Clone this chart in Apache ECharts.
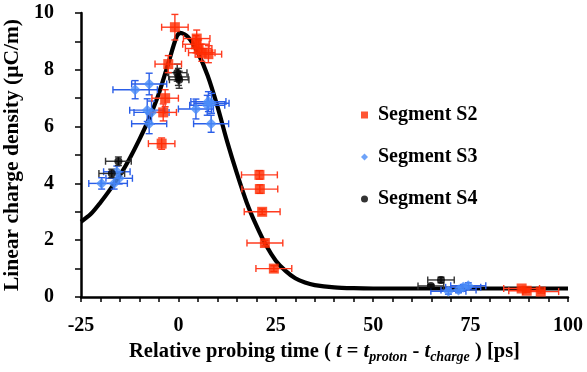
<!DOCTYPE html>
<html>
<head>
<meta charset="utf-8">
<script src="https://cdn.jsdelivr.net/npm/echarts@6/dist/echarts.min.js"></script>
<style>
  html, body { margin: 0; padding: 0; background: #fff; }
  #chart { width: 587px; height: 372px; }
</style>
</head>
<body>
<div id="chart"></div>
<script>
// [t (ps), density (uC/m), t error, density error]
const segmentS2 = [
  [-0.9, 9.5, 3.4, 0.45], [4.7, 9.1, 3.4, 0.3], [4.5, 8.9, 3.4, 0.3], [5.2, 8.75, 3.4, 0.3],
  [6.0, 8.6, 3.4, 0.3], [7.7, 8.55, 3.4, 0.3], [-2.6, 8.2, 3.4, 0.3], [-3.4, 7.0, 3.4, 0.3],
  [-3.9, 6.5, 3.4, 0.3], [-4.3, 5.4, 3.4, 0.2], [20.8, 4.3, 4.6, 0.15], [20.9, 3.8, 4.6, 0.15],
  [21.5, 3.0, 4.6, 0.1], [22.2, 1.9, 4.6, 0.1], [24.5, 1.0, 4.6, 0.1],
  [88.1, 0.3, 4.6, 0.05], [89.4, 0.22, 4.6, 0.05], [93.0, 0.19, 4.6, 0.05]
];
const segmentS3 = [
  [-11.1, 7.3, 5.7, 0.32], [-7.5, 7.5, 4.5, 0.38], [-8.0, 6.58, 4.5, 0.4], [-6.9, 6.5, 4.5, 0.4],
  [-7.5, 6.1, 4.5, 0.35], [4.5, 6.62, 4.5, 0.35], [7.4, 6.75, 4.5, 0.35], [8.5, 6.82, 4.5, 0.35],
  [7.7, 6.88, 4.5, 0.35], [8.4, 6.1, 4.5, 0.3], [-19.7, 4.0, 3.3, 0.2], [-16.5, 4.0, 3.4, 0.2],
  [-15.2, 4.18, 3.4, 0.2], [-15.8, 4.41, 3.4, 0.2],
  [69.3, 0.2, 4.5, 0.1], [71.9, 0.25, 4.5, 0.1], [73.1, 0.34, 4.5, 0.1], [74.4, 0.4, 4.5, 0.1]
];
const segmentS4 = [
  [-0.3, 7.9, 2.5, 0.3], [0.0, 7.75, 2.5, 0.3], [0.2, 7.65, 2.5, 0.3],
  [-15.4, 4.78, 3.3, 0.15], [-17.1, 4.35, 3.3, 0.15],
  [64.8, 0.39, 3.3, 0.05], [67.4, 0.6, 3.4, 0.1]
];
const fitCurve = [
  [-25, 2.65], [-22.5, 2.92], [-20, 3.33], [-17.5, 3.79], [-15, 4.29], [-12.5, 4.88],
  [-10, 5.55], [-7.5, 6.29], [-5, 7.17], [-2.5, 8.27], [-0.5, 9.15], [0.5, 9.3],
  [2.5, 9.15], [5, 8.6], [7.5, 7.8], [10, 6.72], [12.5, 5.48], [15, 4.36],
  [17.5, 3.34], [20, 2.52], [22.5, 1.82], [25, 1.28], [27.5, 0.92], [30, 0.66],
  [32.5, 0.51], [35, 0.42], [40, 0.34], [45, 0.31], [50, 0.3], [60, 0.3],
  [80, 0.3], [100, 0.3]
];
const xTickLabels = [-25, 0, 25, 50, 75, 100];
const yTickLabels = [0, 2, 4, 6, 8, 10];

const serif = "'Liberation Serif', 'DejaVu Serif', serif";

function errorBars(name, data, color) {
  return {
    type: 'custom',
    name: name + ' err',
    data: data,
    encode: { x: 0, y: 1 },
    z: 2,
    silent: true,
    renderItem: (params, api) => {
      const t = api.value(0), v = api.value(1), et = api.value(2), ev = api.value(3);
      const c = api.coord([t, v]);
      const l = api.coord([t - et, v]), r = api.coord([t + et, v]);
      const top = api.coord([t, v + ev]), bot = api.coord([t, v - ev]);
      const cap = 3.5;
      const style = { stroke: color, lineWidth: 1.4 };
      const seg = (x1, y1, x2, y2) => ({ type: 'line', shape: { x1, y1, x2, y2 }, style });
      return {
        type: 'group',
        children: [
          seg(l[0], c[1], r[0], c[1]),
          seg(l[0], c[1] - cap, l[0], c[1] + cap),
          seg(r[0], c[1] - cap, r[0], c[1] + cap),
          seg(c[0], top[1], c[0], bot[1]),
          seg(c[0] - cap, top[1], c[0] + cap, top[1]),
          seg(c[0] - cap, bot[1], c[0] + cap, bot[1])
        ]
      };
    }
  };
}

const chart = echarts.init(document.getElementById('chart'), null, { renderer: 'canvas' });
chart.setOption({
  animation: false,
  backgroundColor: '#fff',
  grid: { left: 81, right: 19, top: 13, bottom: 75, containLabel: false, outerBoundsMode: 'none' },
  legend: {
    orient: 'vertical',
    left: 356,
    top: 100,
    itemGap: 22,
    itemWidth: 7,
    itemHeight: 7,
    textStyle: { fontFamily: serif, fontWeight: 'bold', fontSize: 20, color: '#000', padding: [0, 0, 0, 5] },
    data: [
      { name: 'Segment S2', icon: 'rect', itemStyle: { color: '#ff2a00' } },
      { name: 'Segment S3', icon: 'diamond', itemStyle: { color: '#4a8cf7' } },
      { name: 'Segment S4', icon: 'circle', itemStyle: { color: '#000' } }
    ]
  },
  xAxis: {
    type: 'value',
    position: 'bottom',
    min: -25,
    max: 100,
    interval: 5,
    axisLine: { show: true, lineStyle: { color: '#000', width: 2.5 } },
    axisTick: { show: true, length: 5, lineStyle: { color: '#000', width: 1.5 } },
    splitLine: { show: false },
    axisLabel: {
      margin: 19,
      fontFamily: serif, fontWeight: 'bold', fontSize: 20, color: '#000',
      formatter: v => xTickLabels.includes(v) ? String(v) : ''
    },
    name: '{n|Relative probing time ( }{i|t}{n| = }{i|t}{s|proton}{n| - }{i|t}{s|charge}{n| ) [ps]}',
    nameLocation: 'middle',
    nameGap: 43,
    nameTextStyle: {
      rich: {
        n: { fontFamily: serif, fontWeight: 'bold', fontSize: 20.5, color: '#000', lineHeight: 24 },
        i: { fontFamily: serif, fontWeight: 'bold', fontStyle: 'italic', fontSize: 20.5, color: '#000', lineHeight: 24 },
        s: { fontFamily: serif, fontWeight: 'bold', fontStyle: 'italic', fontSize: 14, color: '#000', lineHeight: 14, verticalAlign: 'bottom' }
      }
    }
  },
  yAxis: {
    type: 'value',
    position: 'left',
    min: 0,
    max: 10,
    interval: 1,
    axisLine: { show: true, onZero: false, lineStyle: { color: '#000', width: 2.5 } },
    axisTick: { show: true, length: 6, lineStyle: { color: '#000', width: 1.5 } },
    splitLine: { show: false },
    axisLabel: {
      margin: 27,
      fontFamily: serif, fontWeight: 'bold', fontSize: 20, color: '#000',
      formatter: v => yTickLabels.includes(v) ? String(v) : ''
    },
    name: 'Linear charge density (μC/m)',
    nameLocation: 'middle',
    nameGap: 50,
    nameTextStyle: { fontFamily: serif, fontWeight: 'bold', fontSize: 21.5, color: '#000' }
  },
  series: [
    {
      type: 'line',
      name: 'fit',
      data: fitCurve,
      smooth: 0.3,
      symbol: 'none',
      z: 1,
      lineStyle: { color: '#000', width: 4.2 }
    },
    errorBars('Segment S3', segmentS3, '#2a5ee8'),
    errorBars('Segment S4', segmentS4, '#333'),
    errorBars('Segment S2', segmentS2, '#ff3b1f'),
    {
      type: 'scatter', name: 'Segment S3', data: segmentS3, symbol: 'diamond', symbolSize: 11, z: 3,
      itemStyle: { color: '#4a8cf7' }
    },
    {
      type: 'scatter', name: 'Segment S4', data: segmentS4, symbol: 'circle', symbolSize: 8, z: 3,
      itemStyle: { color: '#000' }
    },
    {
      type: 'scatter', name: 'Segment S2', data: segmentS2, symbol: 'rect', symbolSize: 10, z: 4,
      itemStyle: { color: '#ff2a00' }
    }
  ]
});
</script>
</body>
</html>
